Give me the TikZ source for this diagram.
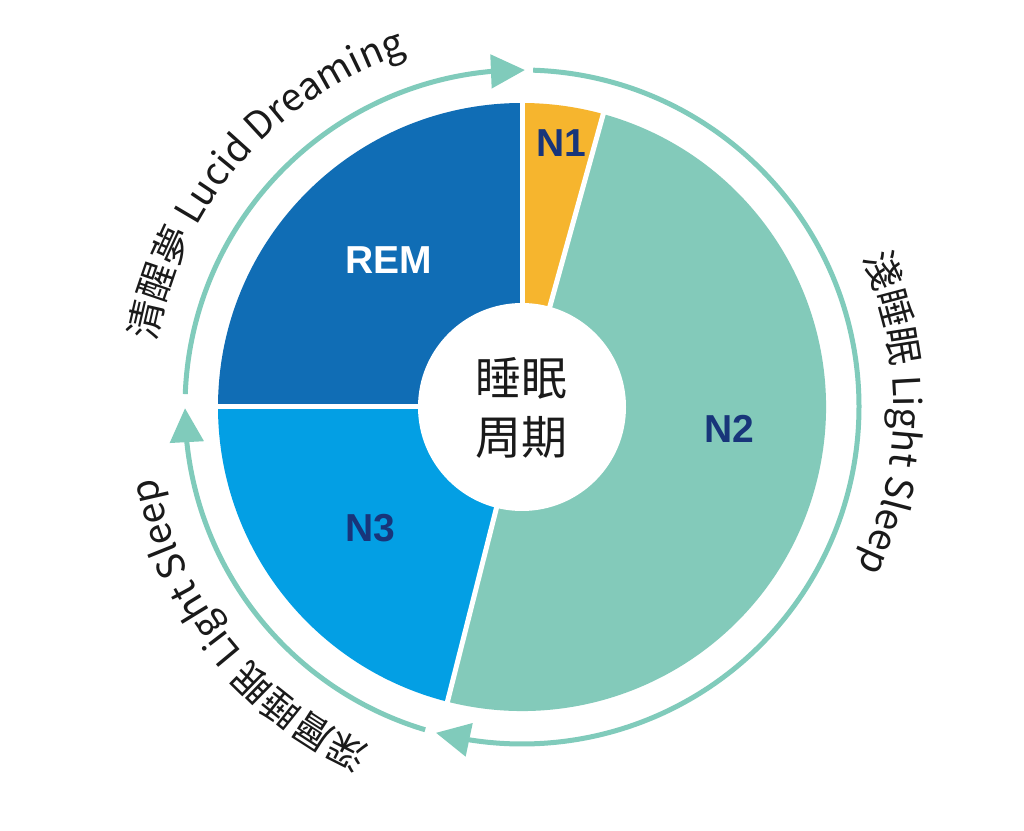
\documentclass[tikz,border=0pt]{standalone}
\usepackage{fontspec}
\setmainfont{Liberation Sans}
\newfontfamily\cjkfont{Noto Sans CJK TC}
\usetikzlibrary{arrows.meta,bending,decorations.text}
\definecolor{remc}{HTML}{106DB5}
\definecolor{nonec}{HTML}{F6B52E}
\definecolor{ntwoc}{HTML}{83CABA}
\definecolor{nthreec}{HTML}{039FE4}
\definecolor{ringc}{HTML}{80CBBB}
\definecolor{navy}{HTML}{18357A}
\definecolor{txt}{HTML}{1A1A1A}
\begin{document}
\begin{tikzpicture}[x=1pt,y=1pt,
  sector/.style={draw=none},
  gapline/.style={white,line width=5pt},
  ringarrow/.style={ringc,line width=5pt,-{Triangle[length=34pt,width=33pt]}},
  stagelabel/.style={font=\fontsize{39pt}{39pt}\selectfont\bfseries,text=navy},
  curvetext/.style={decorate,decoration={text along path,text align=center,text={#1}}}
]
\useasboundingbox (0,0) rectangle (1024,830);
\fill[white] (0,0) rectangle (1024,830);
\coordinate (C) at (522,423);
% sectors
\fill[nonec]   (C) -- ([shift={(90:304pt)}]C) arc[start angle=90,end angle=74.5,radius=304pt] -- cycle;
\fill[ntwoc]   (C) -- ([shift={(74.5:304pt)}]C) arc[start angle=74.5,end angle=-104.2,radius=304pt] -- cycle;
\fill[nthreec] (C) -- ([shift={(-104.2:304pt)}]C) arc[start angle=-104.2,end angle=-180,radius=304pt] -- cycle;
\fill[remc]    (C) -- ([shift={(180:304pt)}]C) arc[start angle=180,end angle=90,radius=304pt] -- cycle;
% gaps
\foreach \a in {90,74.5,-104.2,180}{
  \draw[gapline] (C) -- ([shift={(\a:306pt)}]C);
}
\fill[white] (C) circle[radius=104pt];
% center text
\node[font=\cjkfont\fontsize{46pt}{46pt}\selectfont,text=txt,align=center] (center) at (521,452) {睡眠};
\node[font=\cjkfont\fontsize{46pt}{46pt}\selectfont,text=txt,align=center] (center2) at (521,393) {周期};
% stage labels
\node[stagelabel] (n1) at (561,687) {N1};
\node[stagelabel,text=white] (rem) at (389,570) {REM};
\node[stagelabel] (n2) at (729,401) {N2};
\node[stagelabel] (n3) at (370,302) {N3};
% ring arrows
\draw[ringarrow] ([shift={(177.8:337pt)}]C) arc[start angle=177.8,end angle=89.5,radius=337pt];
\draw[ringarrow] ([shift={(88.1:337pt)}]C) arc[start angle=88.1,end angle=-104.8,radius=337pt];
\draw[ringarrow] ([shift={(-106.7:337pt)}]C) arc[start angle=-106.7,end angle=-179.8,radius=337pt];
% curved texts
\path[curvetext={|\cjkfont\fontsize{38pt}{38pt}\selectfont\color{txt}|清醒夢 Lucid Dreaming}]
  ([shift={(185:372pt)}]C) arc[start angle=185,end angle=93,radius=372pt];
\path[curvetext={|\cjkfont\fontsize{38pt}{38pt}\selectfont\color{txt}|淺睡眠 Light Sleep}]
  ([shift={(45:372pt)}]C) arc[start angle=45,end angle=-47,radius=372pt];
\path[curvetext={|\cjkfont\fontsize{38pt}{38pt}\selectfont\color{txt}|深層睡眠 Light Sleep}]
  ([shift={(-95:372pt)}]C) arc[start angle=-95,end angle=-188,radius=372pt];
\end{tikzpicture}
\end{document}
